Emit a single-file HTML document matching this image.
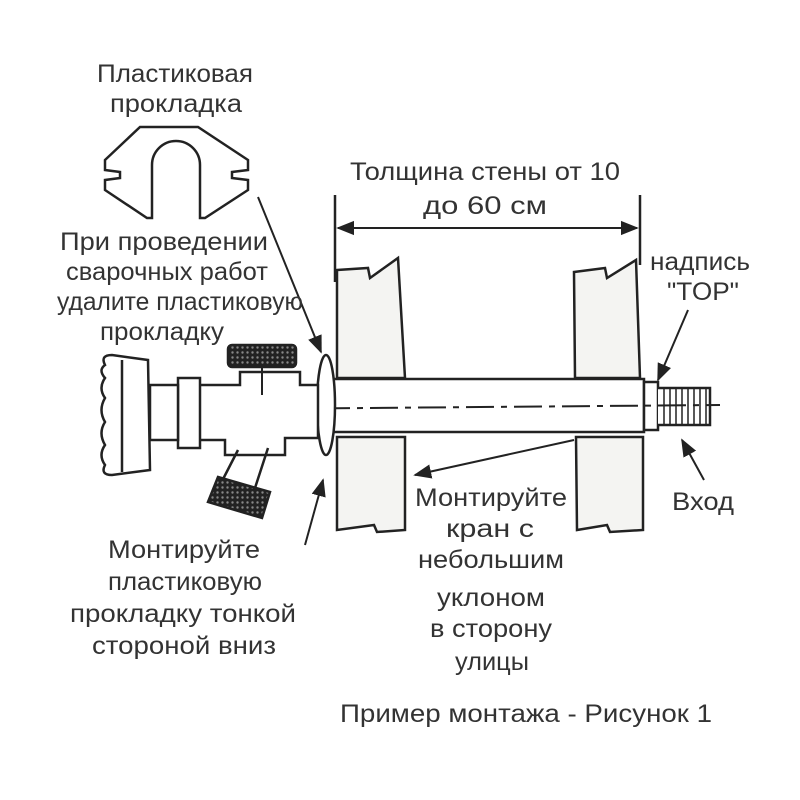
<!DOCTYPE html>
<html><head><meta charset="utf-8"><style>
html,body{margin:0;padding:0;background:#fff}
svg{display:block}
text{font-family:"Liberation Sans","DejaVu Sans",sans-serif;fill:#333;font-size:25px}
</style></head><body>
<svg width="800" height="800" viewBox="0 0 800 800" xmlns="http://www.w3.org/2000/svg">
<defs>
<pattern id="knurl" width="5" height="5" patternUnits="userSpaceOnUse"><rect width="5" height="5" fill="#222"/><circle cx="2.5" cy="2.5" r="1.2" fill="#888"/></pattern>
<marker id="ar" viewBox="0 0 10 10" refX="9" refY="5" markerWidth="9" markerHeight="9" orient="auto-start-reverse"><path d="M0,1 L10,5 L0,9 Z" fill="#222"/></marker>
</defs>
<g fill="none" stroke="#222" stroke-width="2.5">
<path d="M140,127 L198,127 L248,160 L248,170 L232,172 L232,178 L248,180 L248,190 L205,218 L200,218 L200,165 A24,24 0 0 0 152,165 L152,218 L147,218 L105,190 L105,180 L120,178 L120,172 L105,170 L105,160 Z"/>
<line x1="335" y1="195" x2="335" y2="282"/>
<line x1="640" y1="195" x2="640" y2="265"/>
<line x1="338" y1="228" x2="637" y2="228" marker-start="url(#ar)" marker-end="url(#ar)" stroke-width="2"/>
<path d="M337,270 L368,268 L370,278 L398,258 L405,378 L337,378 Z" fill="#f4f4f2"/>
<path d="M337,437 L405,437 L405,530 L377,532 L374,525 L337,530 Z" fill="#f4f4f2"/>
<path d="M574,272 L605,268 L607,278 L636,260 L640,378 L575,378 Z" fill="#f4f4f2"/>
<path d="M576,437 L643,437 L643,530 L610,532 L607,525 L577,530 Z" fill="#f4f4f2"/>
<rect x="330" y="379" width="314" height="53" fill="#fff"/>
<rect x="644" y="382" width="14" height="48" fill="#fff"/>
<path d="M658,388 L710,388 L710,425 L658,425" fill="#fff"/>
<path d="M664,388 v37 M670,388 v37 M676,388 v37 M682,388 v37 M688,388 v37 M694,388 v37 M700,388 v37 M706,388 v37" stroke-width="1.5"/>
<line x1="130" y1="410" x2="720" y2="405" stroke-dasharray="28,7,6,7" stroke-width="2"/>
<ellipse cx="326" cy="405" rx="9" ry="50" fill="#fff"/>
<path d="M195,385 L240,385 L240,372 L300,372 L300,385 L318,385 L318,438 L285,438 L285,455 L225,455 L225,440 L195,440 Z" fill="#fff"/>
<rect x="178" y="378" width="22" height="70" fill="#fff"/>
<rect x="150" y="385" width="28" height="55" fill="#fff"/>
<path d="M105,365 Q100,355 112,355 L148,360 L150,470 L112,475 Q100,475 105,465 Q98,455 105,445 Q98,433 105,422 Q98,410 105,398 Q98,388 105,378 Q98,370 105,365 Z" fill="#fff"/>
<line x1="122" y1="360" x2="122" y2="472"/>
<rect x="228" y="345" width="68" height="22" rx="4" fill="url(#knurl)"/>
<line x1="262" y1="367" x2="262" y2="395" stroke-width="2"/>
<path d="M238,450 L220,485 M268,448 L255,488" />
<path d="M218,477 L270,492 L262,518 L208,502 Z" fill="url(#knurl)"/>
<line x1="258" y1="197" x2="321" y2="352" marker-end="url(#ar)" stroke-width="2"/>
<line x1="305" y1="545" x2="323" y2="480" marker-end="url(#ar)" stroke-width="2"/>
<line x1="574" y1="440" x2="415" y2="475" marker-end="url(#ar)" stroke-width="2"/>
<line x1="688" y1="310" x2="658" y2="380" marker-end="url(#ar)" stroke-width="2"/>
<line x1="704" y1="480" x2="682" y2="440" marker-end="url(#ar)" stroke-width="2"/>
</g>
<g>
<text x="97" y="82" textLength="156" lengthAdjust="spacingAndGlyphs">Пластиковая</text>
<text x="110" y="112" textLength="132" lengthAdjust="spacingAndGlyphs">прокладка</text>
<text x="60" y="250" textLength="208" lengthAdjust="spacingAndGlyphs">При проведении</text>
<text x="66" y="280" textLength="202" lengthAdjust="spacingAndGlyphs">сварочных работ</text>
<text x="57" y="310" textLength="246" lengthAdjust="spacingAndGlyphs">удалите пластиковую</text>
<text x="100" y="340" textLength="124" lengthAdjust="spacingAndGlyphs">прокладку</text>
<text x="350" y="180" textLength="270" lengthAdjust="spacingAndGlyphs">Толщина стены от 10</text>
<text x="423" y="214" textLength="124" lengthAdjust="spacingAndGlyphs">до 60 см</text>
<text x="650" y="270" textLength="100" lengthAdjust="spacingAndGlyphs">надпись</text>
<text x="667" y="300" textLength="72" lengthAdjust="spacingAndGlyphs">"TOP"</text>
<text x="672" y="510" textLength="62" lengthAdjust="spacingAndGlyphs">Вход</text>
<text x="415" y="506" textLength="152" lengthAdjust="spacingAndGlyphs">Монтируйте</text>
<text x="446" y="537" textLength="88" lengthAdjust="spacingAndGlyphs">кран с</text>
<text x="418" y="568" textLength="146" lengthAdjust="spacingAndGlyphs">небольшим</text>
<text x="437" y="606" textLength="108" lengthAdjust="spacingAndGlyphs">уклоном</text>
<text x="430" y="637" textLength="122" lengthAdjust="spacingAndGlyphs">в сторону</text>
<text x="455" y="670" textLength="74" lengthAdjust="spacingAndGlyphs">улицы</text>
<text x="108" y="558" textLength="152" lengthAdjust="spacingAndGlyphs">Монтируйте</text>
<text x="108" y="590" textLength="154" lengthAdjust="spacingAndGlyphs">пластиковую</text>
<text x="70" y="622" textLength="226" lengthAdjust="spacingAndGlyphs">прокладку тонкой</text>
<text x="92" y="654" textLength="184" lengthAdjust="spacingAndGlyphs">стороной вниз</text>
<text x="340" y="722" textLength="372" lengthAdjust="spacingAndGlyphs">Пример монтажа - Рисунок 1</text>
</g>
</svg>
</body></html>
